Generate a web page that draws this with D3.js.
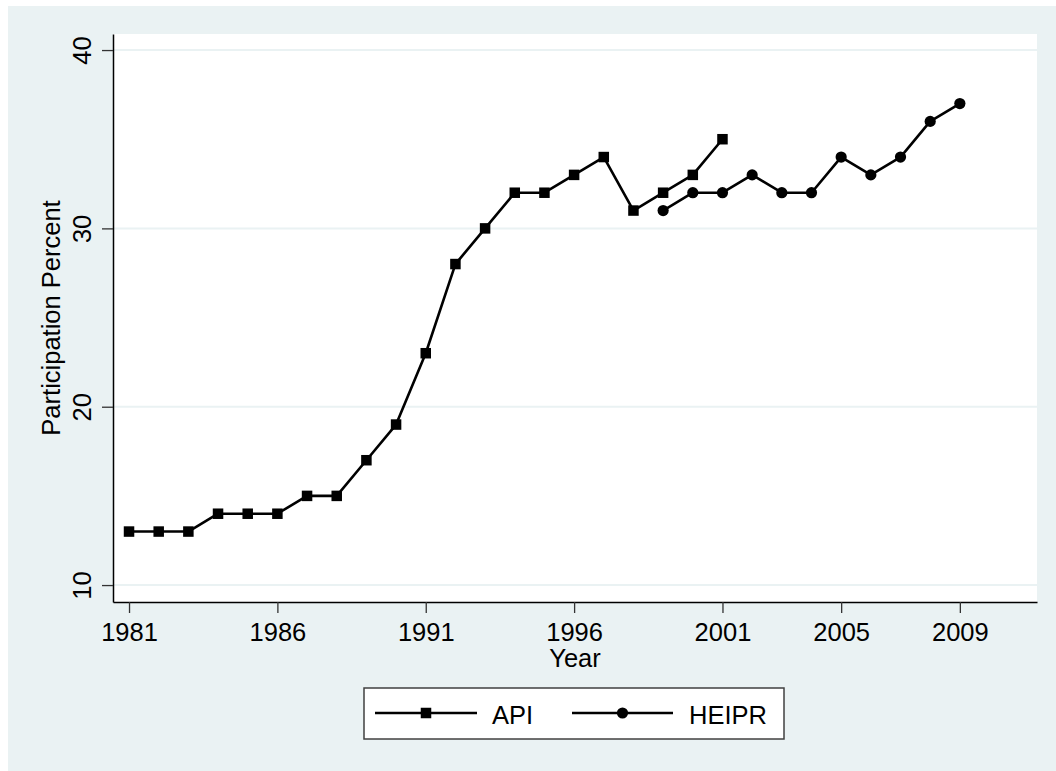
<!DOCTYPE html>
<html>
<head>
<meta charset="utf-8">
<script src="https://cdn.jsdelivr.net/npm/d3@7"></script>
<style>
  html, body { margin: 0; padding: 0; background: #ffffff; }
  svg { display: block; font-family: "Liberation Sans", Arial, sans-serif; }
</style>
</head>
<body>
<div id="chart"></div>
<script>
// Data
const apiYears = [1981, 1982, 1983, 1984, 1985, 1986, 1987, 1988, 1989, 1990, 1991,
                  1992, 1993, 1994, 1995, 1996, 1997, 1998, 1999, 2000, 2001];
const apiValues = [13, 13, 13, 14, 14, 14, 15, 15, 17, 19, 23,
                   28, 30, 32, 32, 33, 34, 31, 32, 33, 35];
const heiprYears = [1999, 2000, 2001, 2002, 2003, 2004, 2005, 2006, 2007, 2008, 2009];
const heiprValues = [31, 32, 32, 33, 32, 32, 34, 33, 34, 36, 37];
const xTicks = [1981, 1986, 1991, 1996, 2001, 2005, 2009];
const yTicks = [10, 20, 30, 40];
const seriesNames = ['API', 'HEIPR'];

const W = 1056, H = 771;
const plot = { left: 113, right: 1037, top: 34, bottom: 602 };
const BG = '#eaf2f3';

const svg = d3.select('#chart').append('svg')
    .attr('width', W)
    .attr('height', H);

// Graph region background
svg.append('rect')
    .attr('x', 8).attr('y', 6)
    .attr('width', W - 8).attr('height', H - 6)
    .attr('fill', BG);

// Plot region
svg.append('rect')
    .attr('x', plot.left).attr('y', plot.top)
    .attr('width', plot.right - plot.left)
    .attr('height', plot.bottom - plot.top)
    .attr('fill', '#ffffff');

const x = d3.scaleLinear().domain([1980.46, 2011.6]).range([plot.left, plot.right]);
const y = d3.scaleLinear().domain([9.05, 40.9]).range([plot.bottom, plot.top]);

// Gridlines
svg.append('g').selectAll('line')
    .data(yTicks)
    .enter()
    .append('line')
    .attr('x1', plot.left).attr('x2', plot.right)
    .attr('y1', d => y(d)).attr('y2', d => y(d))
    .attr('stroke', BG)
    .attr('stroke-width', 2);

// Axes
const xAxis = svg.append('g')
    .attr('transform', `translate(0,${plot.bottom})`)
    .call(d3.axisBottom(x).tickValues(xTicks).tickFormat(d3.format('d')).tickSize(11).tickSizeOuter(0).tickPadding(10));
xAxis.select('.domain').attr('stroke', '#000').attr('stroke-width', 1.5);
xAxis.selectAll('.tick line').attr('stroke', '#333').attr('stroke-width', 1.3);
xAxis.selectAll('.tick text')
    .attr('fill', '#000')
    .attr('font-size', '25.5px')
    .attr('font-family', '"Liberation Sans", Arial, sans-serif');

const yAxis = svg.append('g')
    .attr('transform', `translate(${plot.left},0)`)
    .call(d3.axisLeft(y).tickValues(yTicks).tickSize(11).tickSizeOuter(0));
yAxis.select('.domain').attr('stroke', '#000').attr('stroke-width', 1.5);
yAxis.selectAll('.tick line').attr('stroke', '#333').attr('stroke-width', 1.3);
yAxis.selectAll('.tick text')
    .attr('fill', '#000')
    .attr('font-size', '25.5px')
    .attr('font-family', '"Liberation Sans", Arial, sans-serif')
    .attr('text-anchor', 'middle')
    .attr('dy', 0)
    .attr('x', 0)
    .attr('transform', 'translate(-22,0) rotate(-90)');

// Axis titles
svg.append('text')
    .attr('x', (plot.left + plot.right) / 2)
    .attr('y', 667)
    .attr('text-anchor', 'middle')
    .attr('font-size', '25.5px')
    .text('Year');

svg.append('text')
    .attr('transform', `translate(60,${(plot.top + plot.bottom) / 2}) rotate(-90)`)
    .attr('text-anchor', 'middle')
    .attr('font-size', '25.5px')
    .text('Participation Percent');

// Series
const api = apiYears.map((yr, i) => ({ x: yr, y: apiValues[i] }));
const heipr = heiprYears.map((yr, i) => ({ x: yr, y: heiprValues[i] }));

const line = d3.line().x(d => x(d.x)).y(d => y(d.y));

[api, heipr].forEach(series => {
    svg.append('path')
        .datum(series)
        .attr('fill', 'none')
        .attr('stroke', '#000')
        .attr('stroke-width', 2.6)
        .attr('stroke-linejoin', 'round')
        .attr('d', line);
});

const squareSize = 10.5;
svg.append('g').selectAll('rect')
    .data(api)
    .enter()
    .append('rect')
    .attr('x', d => x(d.x) - squareSize / 2)
    .attr('y', d => y(d.y) - squareSize / 2)
    .attr('width', squareSize)
    .attr('height', squareSize)
    .attr('fill', '#000');

svg.append('g').selectAll('circle')
    .data(heipr)
    .enter()
    .append('circle')
    .attr('cx', d => x(d.x))
    .attr('cy', d => y(d.y))
    .attr('r', 5.6)
    .attr('fill', '#000');

// Legend
const legend = svg.append('g');
legend.append('rect')
    .attr('x', 364).attr('y', 688)
    .attr('width', 420).attr('height', 51)
    .attr('fill', '#ffffff')
    .attr('stroke', '#404040')
    .attr('stroke-width', 1.5);

const legendItems = [
    { name: seriesNames[0], x0: 375, x1: 477, text: 492, shape: 'square' },
    { name: seriesNames[1], x0: 572, x1: 673, text: 689, shape: 'circle' }
];
const ly = 713;
legendItems.forEach(item => {
    legend.append('line')
        .attr('x1', item.x0).attr('x2', item.x1)
        .attr('y1', ly).attr('y2', ly)
        .attr('stroke', '#000')
        .attr('stroke-width', 2.6);
    const cx = (item.x0 + item.x1) / 2;
    if (item.shape === 'square') {
        legend.append('rect')
            .attr('x', cx - squareSize / 2).attr('y', ly - squareSize / 2)
            .attr('width', squareSize).attr('height', squareSize)
            .attr('fill', '#000');
    } else {
        legend.append('circle')
            .attr('cx', cx).attr('cy', ly).attr('r', 5.6)
            .attr('fill', '#000');
    }
    legend.append('text')
        .attr('x', item.text)
        .attr('y', 724)
        .attr('font-size', '25.5px')
        .text(item.name);
});
</script>
</body>
</html>
